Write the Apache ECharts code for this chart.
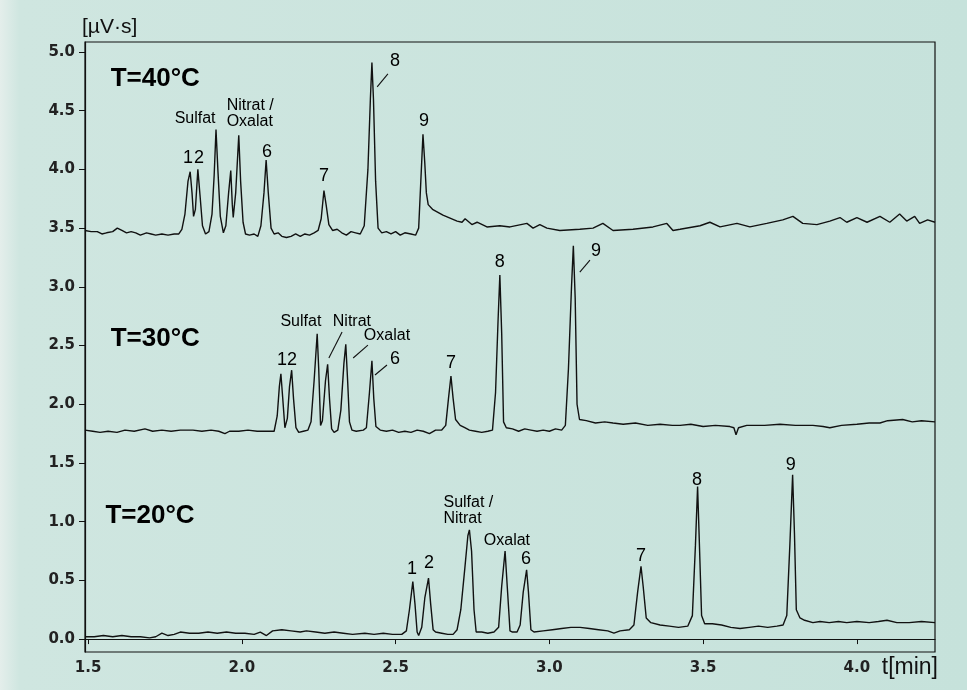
<!DOCTYPE html>
<html>
<head>
<meta charset="utf-8">
<title>Chromatogramm</title>
<script src="https://cdn.jsdelivr.net/npm/echarts@6/dist/echarts.min.js"></script>
<style>
html, body { margin: 0; padding: 0; }
#chart { width: 967px; height: 690px; }
</style>
</head>
<body>
<div id="chart"></div>
<script>
// traces: [t in min, signal in uV*s]
var trace40 = [
  [1.490,3.48],[1.510,3.47],[1.530,3.47],[1.545,3.45],[1.560,3.46],[1.580,3.47],[1.595,3.50],[1.610,3.48],
  [1.625,3.46],[1.640,3.47],[1.655,3.46],[1.670,3.44],[1.690,3.46],[1.705,3.45],[1.720,3.44],[1.740,3.45],
  [1.760,3.44],[1.780,3.45],[1.795,3.45],[1.805,3.49],[1.815,3.62],[1.825,3.90],[1.832,3.98],[1.838,3.80],
  [1.843,3.60],[1.849,3.66],[1.857,4.00],[1.864,3.78],[1.872,3.52],[1.882,3.45],[1.893,3.47],[1.903,3.62],
  [1.910,3.95],[1.916,4.34],[1.922,4.00],[1.930,3.60],[1.940,3.46],[1.948,3.52],[1.957,3.80],[1.964,3.99],
  [1.969,3.70],[1.972,3.59],[1.980,3.80],[1.990,4.29],[1.996,3.90],[2.004,3.55],[2.012,3.45],[2.025,3.44],
  [2.040,3.45],[2.052,3.43],[2.062,3.52],[2.072,3.80],[2.079,4.08],[2.086,3.80],[2.095,3.50],[2.105,3.45],
  [2.118,3.46],[2.130,3.43],[2.145,3.42],[2.160,3.43],[2.175,3.45],[2.190,3.43],[2.205,3.45],[2.220,3.44],
  [2.235,3.46],[2.248,3.48],[2.258,3.58],[2.267,3.82],[2.274,3.70],[2.283,3.53],[2.295,3.48],[2.310,3.49],
  [2.325,3.46],[2.340,3.44],[2.355,3.47],[2.370,3.46],[2.385,3.45],[2.398,3.52],[2.410,4.00],[2.418,4.60],
  [2.423,4.91],[2.428,4.60],[2.435,3.90],[2.443,3.50],[2.455,3.46],[2.470,3.47],[2.485,3.45],[2.500,3.47],
  [2.515,3.44],[2.530,3.46],[2.550,3.45],[2.565,3.44],[2.575,3.50],[2.582,3.90],[2.589,4.30],[2.595,4.05],
  [2.600,3.80],[2.606,3.70],[2.620,3.66],[2.654,3.61],[2.700,3.56],[2.716,3.55],[2.726,3.58],[2.748,3.53],
  [2.765,3.55],[2.797,3.51],[2.839,3.52],[2.872,3.51],[2.927,3.54],[2.947,3.50],[2.969,3.53],[2.992,3.50],
  [3.034,3.48],[3.099,3.49],[3.142,3.50],[3.174,3.54],[3.207,3.48],[3.272,3.49],[3.337,3.51],[3.382,3.54],
  [3.402,3.48],[3.425,3.49],[3.490,3.52],[3.522,3.55],[3.555,3.51],[3.610,3.54],[3.652,3.51],[3.707,3.54],
  [3.759,3.57],[3.792,3.60],[3.824,3.54],[3.870,3.53],[3.912,3.56],[3.945,3.59],[3.967,3.55],[4.000,3.59],
  [4.033,3.55],[4.075,3.60],[4.107,3.55],[4.139,3.62],[4.162,3.56],[4.188,3.60],[4.204,3.54],[4.230,3.57],
  [4.254,3.55]
];

var trace30 = [
  [1.490,1.78],[1.515,1.77],[1.539,1.76],[1.565,1.77],[1.594,1.76],[1.620,1.78],[1.650,1.77],[1.685,1.79],
  [1.710,1.77],[1.740,1.78],[1.770,1.77],[1.800,1.78],[1.841,1.78],[1.870,1.77],[1.900,1.78],[1.925,1.77],
  [1.945,1.75],[1.960,1.77],[1.990,1.77],[2.020,1.78],[2.050,1.77],[2.080,1.77],[2.105,1.77],[2.115,1.90],
  [2.122,2.15],[2.127,2.26],[2.133,2.05],[2.140,1.80],[2.148,1.88],[2.155,2.15],[2.162,2.29],[2.168,2.05],
  [2.176,1.80],[2.185,1.76],[2.200,1.77],[2.215,1.78],[2.225,1.85],[2.235,2.20],[2.245,2.60],[2.250,2.30],
  [2.256,1.82],[2.262,1.86],[2.272,2.20],[2.279,2.34],[2.285,2.05],[2.292,1.79],[2.300,1.76],[2.312,1.78],
  [2.322,1.95],[2.332,2.35],[2.338,2.51],[2.344,2.20],[2.350,1.85],[2.358,1.78],[2.372,1.77],[2.395,1.78],
  [2.405,1.80],[2.415,2.10],[2.423,2.37],[2.429,2.05],[2.436,1.81],[2.450,1.78],[2.470,1.77],[2.490,1.78],
  [2.510,1.76],[2.530,1.77],[2.550,1.76],[2.570,1.78],[2.590,1.77],[2.610,1.75],[2.630,1.78],[2.650,1.78],
  [2.663,1.82],[2.672,2.05],[2.680,2.24],[2.687,2.05],[2.695,1.87],[2.710,1.82],[2.725,1.80],[2.740,1.78],
  [2.760,1.77],[2.780,1.76],[2.800,1.77],[2.815,1.78],[2.825,2.10],[2.833,2.70],[2.839,3.10],[2.845,2.60],
  [2.851,1.85],[2.860,1.80],[2.880,1.79],[2.900,1.77],[2.920,1.79],[2.940,1.78],[2.960,1.77],[2.980,1.78],
  [3.000,1.77],[3.020,1.79],[3.040,1.78],[3.052,1.82],[3.062,2.30],[3.072,3.00],[3.078,3.35],[3.084,2.90],
  [3.090,2.00],[3.098,1.87],[3.120,1.86],[3.150,1.84],[3.180,1.85],[3.207,1.84],[3.240,1.83],[3.280,1.84],
  [3.320,1.82],[3.360,1.83],[3.400,1.82],[3.425,1.82],[3.460,1.83],[3.500,1.81],[3.540,1.82],[3.587,1.81],
  [3.600,1.80],[3.607,1.74],[3.615,1.80],[3.642,1.82],[3.700,1.82],[3.750,1.83],[3.800,1.82],[3.857,1.82],
  [3.890,1.81],[3.912,1.80],[3.950,1.82],[4.000,1.83],[4.040,1.84],[4.075,1.84],[4.100,1.86],[4.149,1.87],
  [4.180,1.85],[4.210,1.86],[4.254,1.85]
];

var trace20 = [
  [1.490,0.02],[1.520,0.02],[1.550,0.03],[1.580,0.02],[1.610,0.03],[1.640,0.02],[1.670,0.02],[1.700,0.01],
  [1.720,0.02],[1.740,0.05],[1.760,0.03],[1.780,0.04],[1.800,0.06],[1.830,0.05],[1.860,0.05],[1.890,0.06],
  [1.920,0.05],[1.950,0.06],[1.980,0.05],[2.010,0.05],[2.040,0.04],[2.060,0.06],[2.080,0.03],[2.100,0.07],
  [2.130,0.08],[2.160,0.07],[2.190,0.06],[2.210,0.07],[2.240,0.06],[2.270,0.05],[2.300,0.06],[2.330,0.05],
  [2.360,0.04],[2.400,0.05],[2.430,0.04],[2.460,0.05],[2.490,0.04],[2.520,0.04],[2.535,0.07],[2.545,0.25],
  [2.556,0.49],[2.563,0.30],[2.570,0.06],[2.575,0.03],[2.585,0.10],[2.595,0.35],[2.607,0.52],[2.614,0.30],
  [2.622,0.08],[2.630,0.06],[2.650,0.05],[2.670,0.04],[2.687,0.04],[2.700,0.08],[2.712,0.25],[2.725,0.60],
  [2.735,0.88],[2.740,0.93],[2.747,0.75],[2.755,0.25],[2.762,0.06],[2.780,0.06],[2.800,0.05],[2.820,0.06],
  [2.835,0.10],[2.845,0.45],[2.856,0.75],[2.863,0.45],[2.872,0.07],[2.880,0.06],[2.895,0.06],[2.905,0.12],
  [2.915,0.40],[2.926,0.59],[2.932,0.40],[2.940,0.08],[2.950,0.06],[2.980,0.07],[3.010,0.08],[3.040,0.09],
  [3.070,0.10],[3.100,0.10],[3.130,0.09],[3.160,0.08],[3.190,0.07],[3.210,0.05],[3.230,0.07],[3.260,0.08],
  [3.275,0.12],[3.287,0.40],[3.298,0.62],[3.305,0.45],[3.315,0.18],[3.330,0.14],[3.360,0.12],[3.390,0.11],
  [3.420,0.10],[3.450,0.11],[3.465,0.20],[3.475,0.80],[3.482,1.30],[3.488,0.80],[3.495,0.20],[3.505,0.13],
  [3.530,0.13],[3.560,0.12],[3.590,0.10],[3.620,0.09],[3.650,0.10],[3.680,0.11],[3.710,0.10],[3.740,0.11],
  [3.760,0.12],[3.772,0.20],[3.782,0.80],[3.791,1.40],[3.797,0.90],[3.803,0.25],[3.815,0.18],[3.830,0.16],
  [3.857,0.14],[3.880,0.15],[3.910,0.14],[3.940,0.15],[3.967,0.14],[4.000,0.15],[4.040,0.14],[4.070,0.15],
  [4.098,0.16],[4.130,0.14],[4.170,0.14],[4.210,0.15],[4.254,0.14]
];

var xTicks = [1.5, 2.0, 2.5, 3.0, 3.5, 4.0];
var yTicks = [0, 0.5, 1.0, 1.5, 2.0, 2.5, 3.0, 3.5, 4.0, 4.5, 5.0];

// annotations: [t, signal, text]
var tempLabels = [[1.572, 4.77, 'T=40°C'], [1.572, 2.555, 'T=30°C'], [1.555, 1.048, 'T=20°C']];
var peakNumbers = [
  [1.825, 4.10, '1'], [1.861, 4.10, '2'], [2.082, 4.148, '6'], [2.267, 3.944, '7'], [2.498, 4.923, '8'], [2.592, 4.412, '9'],
  [2.131, 2.376, '1'], [2.163, 2.376, '2'], [2.498, 2.385, '6'], [2.680, 2.351, '7'], [2.839, 3.211, '8'], [3.152, 3.305, '9'],
  [2.553, 0.596, '1'], [2.609, 0.647, '2'], [2.924, 0.681, '6'], [3.298, 0.707, '7'], [3.480, 1.354, '8'], [3.785, 1.482, '9']
];
var peakNames = [
  [1.848, 4.429, 'Sulfat'],
  [2.192, 2.700, 'Sulfat'], [2.358, 2.700, 'Nitrat'], [2.472, 2.581, 'Oxalat'],
  [2.862, 0.835, 'Oxalat']
];
var peakNamesLeft = [[1.949, 4.476, 'Nitrat /\nOxalat'], [2.654, 1.095, 'Sulfat /\nNitrat']];
var leaders = [
  [[2.440, 4.702], [2.475, 4.813]],
  [[2.283, 2.394], [2.326, 2.615]],
  [[2.362, 2.394], [2.410, 2.504]],
  [[2.433, 2.249], [2.472, 2.334]],
  [[3.099, 3.126], [3.132, 3.228]]
];

var ink = '#111';
var font = 'Arial, "Liberation Sans", sans-serif';

function traceSeries (data) {
  return {
    type: 'line',
    data: data,
    showSymbol: false,
    symbol: 'none',
    smooth: false,
    lineStyle: { color: ink, width: 1.4 },
    silent: true
  };
}

function textSeries (data, label) {
  return {
    type: 'scatter',
    data: data,
    symbolSize: 1,
    itemStyle: { color: 'rgba(0,0,0,0)', opacity: 1 },
    silent: true,
    label: Object.assign({
      show: true,
      color: '#000',
      fontFamily: font,
      formatter: function (p) { return p.data[2]; }
    }, label)
  };
}

var chart = echarts.init(document.getElementById('chart'));

var option = {
  animation: false,
  backgroundColor: {
    type: 'linear', x: 0, y: 0, x2: 1, y2: 0,
    colorStops: [
      { offset: 0, color: '#e4eeeb' },
      { offset: 0.02, color: '#cfe6e0' },
      { offset: 1, color: '#c6e2db' }
    ]
  },
  // x axis name sits below the axis at the right end
  title: {
    text: 't[min]',
    right: 29,
    top: 656,
    padding: 0,
    textStyle: { fontFamily: font, fontSize: 23, fontWeight: 'normal', color: ink }
  },
  grid: {
    left: 85, top: 42, right: 32, bottom: 38,
    show: true,
    borderColor: ink,
    borderWidth: 1.2,
    backgroundColor: 'transparent'
  },
  xAxis: {
    type: 'value',
    min: 1.49,
    max: 4.254,
    axisLine: { show: true, lineStyle: { color: ink, width: 1.2 } },
    axisTick: { show: true, customValues: xTicks, length: 5, lineStyle: { color: ink } },
    axisLabel: {
      customValues: xTicks,
      margin: 9,
      fontFamily: '"DejaVu Sans", sans-serif',
      fontWeight: 'bold',
      fontSize: 15,
      color: '#222',
      formatter: function (v) { return v.toFixed(1); }
    },
    splitLine: { show: false }
  },
  yAxis: {
    type: 'value',
    min: -0.11,
    max: 5.085,
    name: '[µV·s]',
    nameLocation: 'end',
    nameGap: 4,
    nameTextStyle: {
      fontFamily: font, fontSize: 21, color: ink,
      align: 'left', padding: [0, 0, 0, -3]
    },
    axisLine: { show: true, lineStyle: { color: ink, width: 1.2 } },
    axisTick: { show: true, customValues: yTicks, length: 6, lineStyle: { color: ink } },
    axisLabel: {
      customValues: yTicks,
      margin: 10,
      fontFamily: '"DejaVu Sans", sans-serif',
      fontWeight: 'bold',
      fontSize: 15,
      color: '#222',
      formatter: function (v) { return v.toFixed(1); }
    },
    splitLine: { show: false }
  },
  series: [
    traceSeries(trace40),
    traceSeries(trace30),
    traceSeries(trace20),
    textSeries(tempLabels, { position: 'right', distance: 0, fontSize: 26, fontWeight: 'bold' }),
    textSeries(peakNumbers, { position: 'inside', fontSize: 18 }),
    textSeries(peakNames, { position: 'inside', fontSize: 16 }),
    textSeries(peakNamesLeft, { position: 'right', distance: 0, fontSize: 16, lineHeight: 16, align: 'left' }),
    {
      type: 'lines',
      coordinateSystem: 'cartesian2d',
      silent: true,
      polyline: false,
      lineStyle: { color: ink, width: 1.1, opacity: 1 },
      data: leaders.map(function (c) { return { coords: c }; })
    }
  ]
};

chart.setOption(option);
</script>
</body>
</html>
